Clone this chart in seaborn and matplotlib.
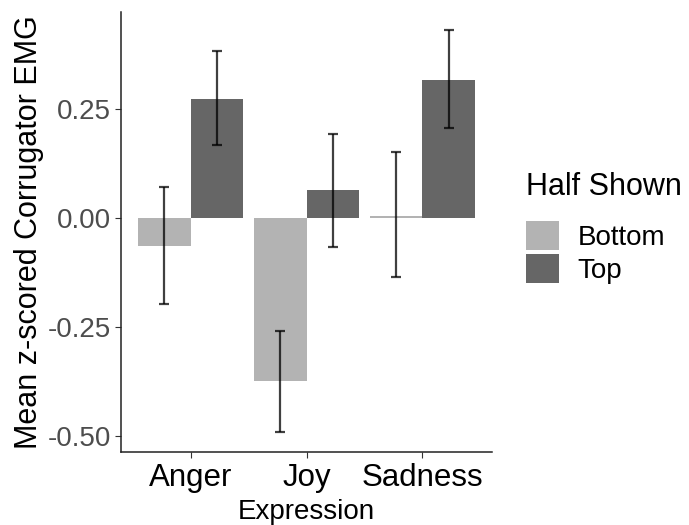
import pandas as pd
import seaborn as sns
import matplotlib.pyplot as plt
from matplotlib.patches import Patch

expressions = ["Anger", "Joy", "Sadness"]
halves = ["Bottom", "Top"]
bottom_mean = [-0.064, -0.375, 0.005]
top_mean = [0.272, 0.065, 0.317]
bottom_lo = [-0.198, -0.490, -0.135]
bottom_hi = [0.070, -0.259, 0.152]
top_lo = [0.166, -0.066, 0.206]
top_hi = [0.383, 0.193, 0.430]

df = pd.DataFrame({
    "Expression": expressions * 2,
    "Half": ["Bottom"] * 3 + ["Top"] * 3,
    "mean": bottom_mean + top_mean,
    "lo": bottom_lo + top_lo,
    "hi": bottom_hi + top_hi,
})

sns.set_style("white")
plt.rcParams['font.family'] = ['Liberation Sans', 'DejaVu Sans']
plt.rcParams['text.color'] = "black"
pal = {"Bottom": "#b3b3b3", "Top": "#666666"}

fig = plt.figure(figsize=(6.89, 5.25), dpi=100)
ax = fig.add_axes([0.1756, 0.139, 0.5385, 0.838])
sns.barplot(data=df, x="Expression", y="mean", hue="Half", order=expressions,
            hue_order=halves, palette=pal, errorbar=None, width=0.9,
            linewidth=0, saturation=1, ax=ax, legend=False)

# error bars at the bar centres
for bars, half in zip(ax.containers, halves):
    sub = df[df["Half"] == half].set_index("Expression").loc[expressions]
    xs = [b.get_x() + b.get_width() / 2 for b in bars]
    ax.errorbar(xs, sub["mean"], yerr=[sub["mean"] - sub["lo"], sub["hi"] - sub["mean"]],
                fmt="none", ecolor="black", alpha=0.75, elinewidth=1.6, capsize=3.3,
                capthick=1.6)

ax.set_xlim(-0.6, 2.6)
ax.set_ylim(-0.537, 0.472)
ax.set_yticks([-0.5, -0.25, 0, 0.25])
ax.set_yticklabels(["-0.50", "-0.25", "0.00", "0.25"])
ax.set_xlabel("Expression", fontsize=20, color="black", labelpad=4)
ax.set_ylabel("Mean z-scored Corrugator EMG", fontsize=22, color="black", labelpad=3)
ax.tick_params(axis="y", labelsize=20, labelcolor="#4d4d4d", left=True, length=4,
               color="#333333", width=0.8, pad=3)
ax.tick_params(axis="x", labelsize=22.5, labelcolor="black", bottom=True, length=4,
               color="#333333", width=0.8, pad=4)
sns.despine(ax=ax)
for s in ["left", "bottom"]:
    ax.spines[s].set_color("#222222")
    ax.spines[s].set_linewidth(1.1)

handles = [Patch(facecolor=pal[h], edgecolor="none") for h in halves]
fig.text(526 / 689, 1 - 187 / 525, "Half Shown", fontsize=22, va="center", ha="left",
         color="black")
leg = fig.legend(handles, halves, loc="upper left",
                 bbox_to_anchor=(526 / 689, 1 - 221 / 525), frameon=False, fontsize=20,
                 handlelength=1.2, handleheight=1.25, borderpad=0,
                 labelspacing=0.1, handletextpad=0.65, borderaxespad=0)
for t in leg.get_texts():
    t.set_color("black")

fig.savefig("out.png", dpi=100)
